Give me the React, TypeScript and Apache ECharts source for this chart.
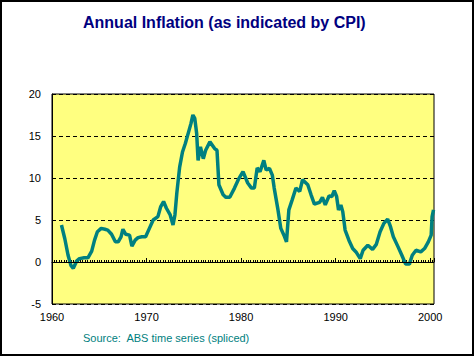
import React, { useEffect, useRef } from "react";
import * as echarts from "echarts";

const years: number[] = [
  1961.0, 1961.35, 1961.7, 1962.0, 1962.25, 1962.6, 1962.9, 1963.4, 1963.8, 1964.2,
  1964.5, 1964.8, 1965.2, 1965.6, 1965.9, 1966.3, 1966.7, 1967.0, 1967.3, 1967.5,
  1967.8, 1968.2, 1968.45, 1968.8, 1969.1, 1969.5, 1969.9, 1970.3, 1970.7, 1971.2,
  1971.5, 1971.8, 1972.1, 1972.5, 1972.8, 1973.0, 1973.2, 1973.5, 1973.8, 1974.1,
  1974.5, 1974.7, 1974.9, 1975.1, 1975.3, 1975.45, 1975.7, 1976.0, 1976.25, 1976.7,
  1977.2, 1977.45, 1977.65, 1978.1, 1978.4, 1978.8, 1979.3, 1979.7, 1980.2, 1980.7,
  1981.1, 1981.4, 1981.7, 1982.0, 1982.4, 1982.65, 1983.0, 1983.3, 1983.5, 1983.9,
  1984.2, 1984.6, 1984.8, 1985.05, 1985.4, 1985.8, 1986.2, 1986.5, 1987.05, 1987.4,
  1987.75, 1988.3, 1988.6, 1988.9, 1989.3, 1989.6, 1989.85, 1990.1, 1990.3, 1990.55,
  1990.75, 1991.0, 1991.4, 1991.8, 1992.15, 1992.6, 1992.9, 1993.4, 1993.9, 1994.3,
  1994.7, 1995.1, 1995.5, 1995.8, 1996.1, 1996.6, 1997.0, 1997.4, 1997.8, 1998.1,
  1998.5, 1999.0, 1999.4, 1999.8, 2000.1, 2000.2, 2000.35,
];

const inflation: number[] = [
  4.4, 2.8, 0.8, -0.4, -0.75, 0.1, 0.4, 0.5, 0.5, 1.3,
  2.6, 3.6, 4.0, 3.9, 3.8, 3.3, 2.4, 2.4, 3.0, 3.9,
  3.3, 3.2, 1.9, 2.6, 2.9, 3.0, 3.0, 4.0, 5.0, 5.4,
  6.6, 7.2, 6.4, 5.6, 4.4, 5.6, 8.2, 11.3, 13.1, 14.1,
  15.7, 16.5, 17.5, 17.1, 15.3, 12.1, 13.7, 12.3, 13.3, 14.3,
  13.5, 13.3, 9.2, 8.0, 7.7, 7.7, 8.8, 9.8, 10.75, 9.4,
  8.8, 8.8, 11.2, 10.75, 12.1, 10.95, 11.15, 10.35, 8.8, 6.2,
  4.0, 3.0, 2.4, 6.2, 7.4, 8.8, 8.4, 9.8, 9.2, 8.0,
  6.9, 7.1, 7.7, 6.8, 7.85, 7.8, 8.5, 7.8, 6.2, 6.8,
  6.0, 3.8, 2.6, 1.6, 1.2, 0.4, 1.4, 2.0, 1.5, 2.1,
  3.6, 4.6, 5.1, 4.2, 3.0, 1.8, 0.8, -0.25, -0.25, 0.8,
  1.4, 1.2, 1.6, 2.4, 3.2, 5.4, 6.2,
];

const xTicks: number[] = [1960, 1970, 1980, 1990, 2000];
const yTicks: number[] = [-5, 0, 5, 10, 15, 20];

const titleText = "Annual Inflation (as indicated by CPI)";
const sourceText = "Source:  ABS time series (spliced)";

export default function App() {
  const ref = useRef<HTMLDivElement>(null);

  useEffect(() => {
    document.body.style.margin = "0";
    if (!ref.current) return;
    const chart = echarts.init(ref.current, undefined, { renderer: "svg" });
    const font = "'Liberation Sans', Arial, sans-serif";
    chart.setOption({
      animation: false,
      backgroundColor: "#ffffff",
      grid: {
        left: 52,
        right: 40,
        top: 94,
        bottom: 52,
        show: true,
        backgroundColor: "#FFFF80",
        borderColor: "#000000",
        borderWidth: 1,
      },
      xAxis: {
        type: "value",
        min: xTicks[0],
        max: 2000.4,
        interval: 10,
        axisLine: { show: true, lineStyle: { color: "#000", width: 1 } },
        axisTick: { show: true, inside: true, length: 4, lineStyle: { color: "#000" } },
        minorTick: { show: true, splitNumber: 40, length: 2, lineStyle: { color: "#000" } },
        splitLine: { show: false },
        axisLabel: {
          color: "#000",
          fontFamily: font,
          fontSize: 11,
          margin: 7,
          showMaxLabel: false,
          formatter: (v: number) => (xTicks.indexOf(v) >= 0 ? String(v) : ""),
        },
      },
      yAxis: {
        type: "value",
        min: yTicks[0],
        max: yTicks[yTicks.length - 1],
        interval: 5,
        axisLine: { show: true, lineStyle: { color: "#000" } },
        axisTick: { show: false },
        splitLine: { show: true, lineStyle: { color: "#000", type: [4, 3], width: 1 } },
        axisLabel: { color: "#000", fontFamily: font, fontSize: 11, margin: 11 },
      },
      series: [
        {
          type: "line",
          data: years.map((y, i) => [y, inflation[i]]),
          showSymbol: false,
          symbol: "none",
          lineStyle: { color: "#008080", width: 3.5 },
          itemStyle: { color: "#008080" },
          markLine: {
            silent: true,
            symbol: "none",
            label: { show: false },
            lineStyle: { color: "#000", type: "solid", width: 1 },
            data: [{ yAxis: 0 }],
          },
          z: 3,
        },
      ],
      graphic: [
        {
          type: "text",
          left: 83,
          top: 14,
          style: {
            text: titleText,
            fill: "#000080",
            font: `bold 16px ${font}`,
          },
        },
        {
          type: "text",
          left: 83,
          top: 332,
          style: {
            text: sourceText,
            fill: "#008080",
            font: `11px ${font}`,
          },
        },
        {
          type: "rect",
          shape: { x: 1, y: 1, width: 472, height: 354 },
          style: { fill: "none", stroke: "#000", lineWidth: 2 },
          silent: true,
        },
      ],
    });
    return () => chart.dispose();
  }, []);

  return <div ref={ref} style={{ width: 474, height: 356 }} />;
}
